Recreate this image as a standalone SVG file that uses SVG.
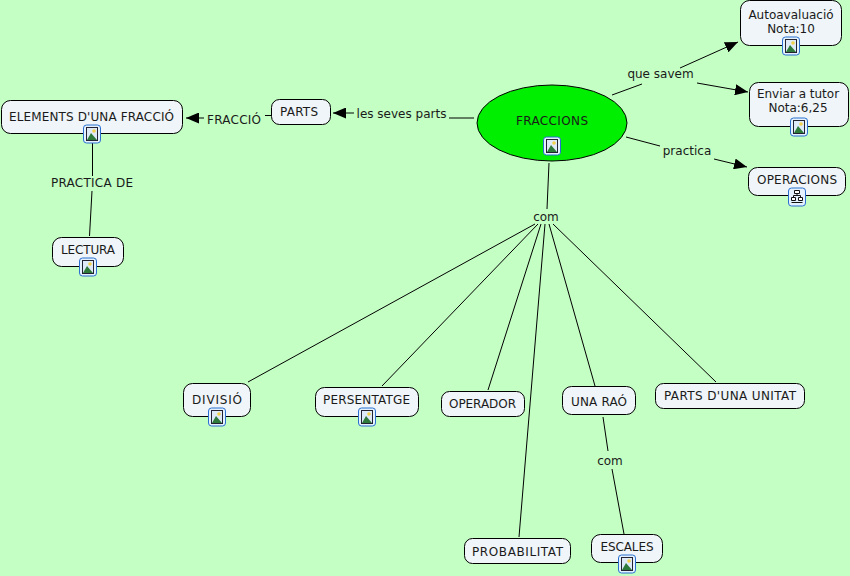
<svg xmlns="http://www.w3.org/2000/svg" width="850" height="576" viewBox="0 0 850 576">
<style>
.n{fill:#eff5f8;stroke:#000;stroke-width:1}
text{font-family:"DejaVu Sans",Verdana,sans-serif;font-size:12px;fill:#1a1a1a;text-anchor:middle}
.c line{stroke:#000;stroke-width:1}
</style>
<defs>
<marker id="a" markerUnits="userSpaceOnUse" markerWidth="13" markerHeight="11" refX="13" refY="5.500" orient="auto"><path d="M0 0L13 5.500L0 11Z" fill="#000"/></marker>
<g id="pic">
<rect x="-8.500" y="-9" width="17" height="18" rx="3" fill="#e4f2ff" stroke="#2a6fd0" stroke-width="1"/>
<rect x="-5.500" y="-6.500" width="11" height="13" fill="#dfeaf8" stroke="#223" stroke-width="1"/>
<circle cx="2" cy="-3" r="1.800" fill="#f2d24a"/>
<path d="M-5 6L-1 -1L5 6Z" fill="#2d7a3a"/>
</g>
<g id="map">
<rect x="-8.500" y="-9" width="17" height="18" rx="3" fill="#e4f2ff" stroke="#2a6fd0" stroke-width="1"/>
<path d="M-2.500 -6.500h5v3h-5zM-5.500 0.500h4v3h-4zM1.500 0.500h4v3h-4zM-5.500 5.500h11" fill="#fff" stroke="#111" stroke-width="1"/>
<path d="M0 -3.500V-1.500M-3.500 0.500V-1.500H3.500V0.500" fill="none" stroke="#111"/>
</g>
</defs>
<rect width="850" height="576" fill="#c4ffc4"/>
<g class="c" id="connectors">
<line x1="612" y1="95" x2="642" y2="84"/>
<line x1="680" y1="68" x2="738" y2="42" marker-end="url(#a)"/>
<line x1="697" y1="83" x2="748" y2="92" marker-end="url(#a)"/>
<line x1="626" y1="137" x2="660" y2="146"/>
<line x1="714" y1="159" x2="747" y2="167" marker-end="url(#a)"/>
<line x1="474" y1="118" x2="449" y2="118"/>
<line x1="354" y1="113" x2="333" y2="113" marker-end="url(#a)"/>
<line x1="271" y1="115.500" x2="265" y2="115.500"/>
<line x1="204" y1="118" x2="186" y2="118" marker-end="url(#a)"/>
<line x1="92.500" y1="142" x2="92.500" y2="176"/>
<line x1="92" y1="191" x2="89.500" y2="236"/>
<line x1="549" y1="163" x2="547" y2="209"/>
<line x1="535" y1="224" x2="248" y2="382"/>
<line x1="538" y1="224" x2="382" y2="386"/>
<line x1="541" y1="224" x2="488" y2="390"/>
<line x1="545" y1="224" x2="519" y2="537"/>
<line x1="549" y1="224" x2="595" y2="386"/>
<line x1="553" y1="224" x2="716" y2="382"/>
<line x1="603" y1="417" x2="608" y2="451"/>
<line x1="612" y1="469" x2="624" y2="534"/>
</g>
<g id="fraccions"><ellipse cx="552" cy="123" rx="75" ry="38" fill="#00ee00" stroke="#000" stroke-width="1"/><text x="552" y="125" textLength="72">FRACCIONS</text><use href="#pic" x="552" y="146"/></g>
<g id="autoavaluacio"><rect class="n" x="740.500" y="0.500" width="101" height="45" rx="9"/><text x="791" y="19">Autoavaluació</text><text x="791" y="33">Nota:10</text><use href="#pic" x="791" y="46"/></g>
<g id="enviar"><rect class="n" x="749.500" y="82.500" width="99" height="44" rx="9"/><text x="798" y="98">Enviar a tutor</text><text x="798" y="112">Nota:6,25</text><use href="#pic" x="799" y="127"/></g>
<g id="operacions"><rect class="n" x="748.500" y="167.500" width="97" height="28" rx="9"/><text x="797" y="184" textLength="80">OPERACIONS</text><use href="#map" x="797" y="197"/></g>
<g id="parts"><rect class="n" x="271.500" y="99.500" width="59" height="25" rx="8"/><text x="299" y="116" textLength="38">PARTS</text></g>
<g id="elements"><rect class="n" x="1.500" y="100.500" width="181" height="33" rx="9"/><text x="91.500" y="121" textLength="165">ELEMENTS D'UNA FRACCIÓ</text><use href="#pic" x="92" y="134"/></g>
<g id="lectura"><rect class="n" x="52.500" y="237.500" width="71" height="29" rx="9"/><text x="88" y="254" textLength="54">LECTURA</text><use href="#pic" x="88" y="267"/></g>
<g id="divisio"><rect class="n" x="183.500" y="383.500" width="67" height="33" rx="9"/><text x="217" y="404" textLength="50">DIVISIÓ</text><use href="#pic" x="217" y="417"/></g>
<g id="persentatge"><rect class="n" x="315.500" y="387.500" width="103" height="29" rx="9"/><text x="366.500" y="404" textLength="87">PERSENTATGE</text><use href="#pic" x="367" y="417"/></g>
<g id="operador"><rect class="n" x="441.500" y="391.500" width="83" height="25" rx="8"/><text x="482.500" y="408" textLength="67">OPERADOR</text></g>
<g id="unarao"><rect class="n" x="562.500" y="386.500" width="73" height="28" rx="9"/><text x="599" y="406" textLength="56">UNA RAÓ</text></g>
<g id="partsunitat"><rect class="n" x="655.500" y="383.500" width="149" height="25" rx="8"/><text x="730" y="400" textLength="132">PARTS D'UNA UNITAT</text></g>
<g id="probabilitat"><rect class="n" x="464.500" y="538.500" width="106" height="25" rx="8"/><text x="517.500" y="556" textLength="91">PROBABILITAT</text></g>
<g id="escales"><rect class="n" x="591.500" y="534.500" width="71" height="28" rx="9"/><text x="627" y="551" textLength="53">ESCALES</text><use href="#pic" x="627" y="564"/></g>
<g id="labels">
<text x="660.500" y="78">que savem</text>
<text x="687" y="155">practica</text>
<text x="401.500" y="118">les seves parts</text>
<text x="234" y="124" textLength="54">FRACCIÓ</text>
<text x="92" y="187" textLength="82">PRACTICA DE</text>
<text x="546" y="221">com</text>
<text x="610" y="465">com</text>
</g>
</svg>
